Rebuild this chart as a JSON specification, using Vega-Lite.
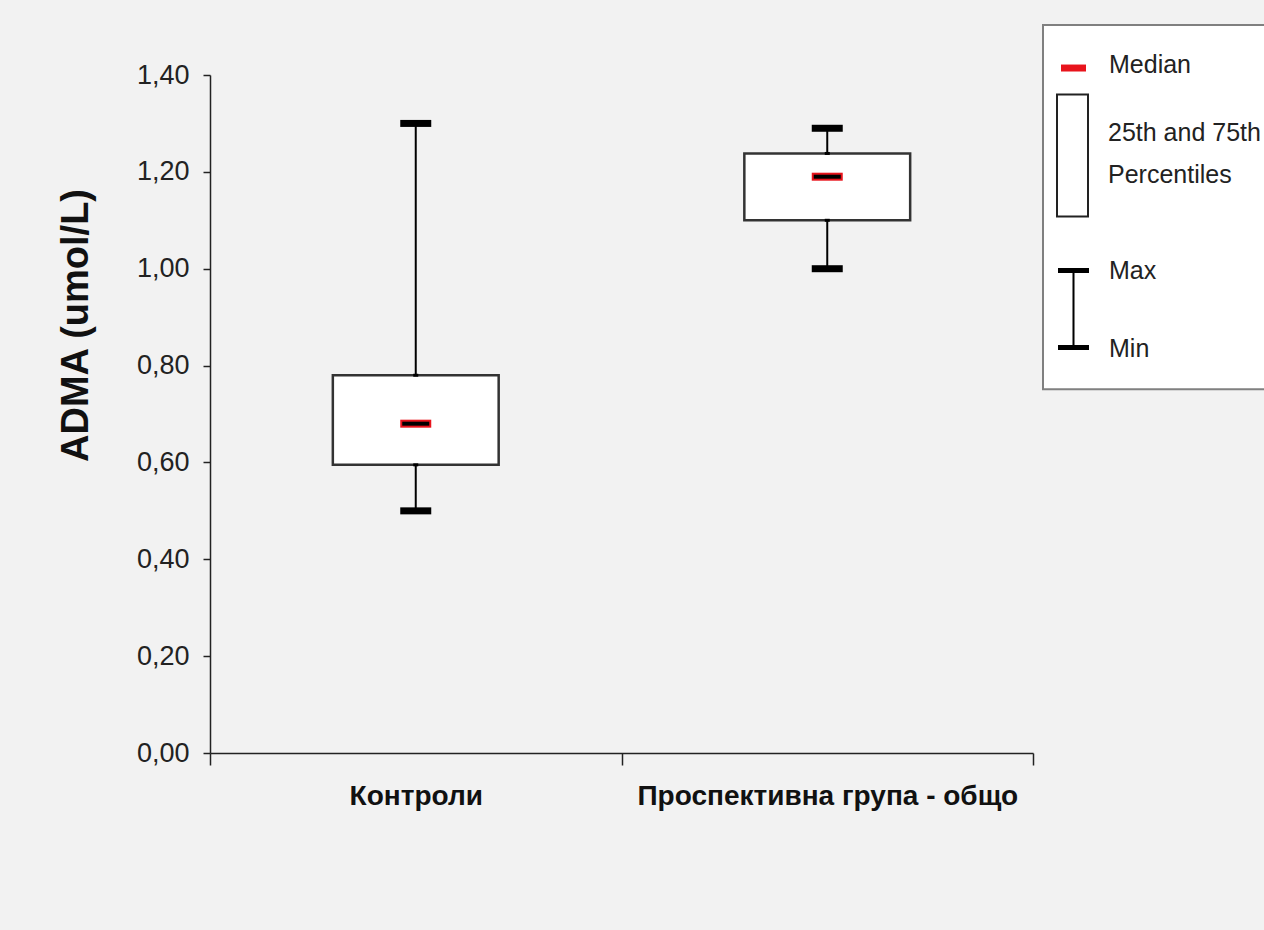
{
  "$schema": "https://vega.github.io/schema/vega-lite/v6.json",
  "width": 823,
  "height": 678,
  "autosize": {"type": "none"},
  "padding": {"left": 210, "top": 75, "right": 231, "bottom": 177},
  "background": "#f2f2f2",
  "config": {
    "view": {"stroke": null},
    "font": "Liberation Sans",
    "style": {"guide-label": {"lineHeight": 42}},
    "legend": {
      "title": null, "orient": "none", "padding": 0, "symbolSize": 961, "symbolOpacity": 1,
      "symbolStrokeWidth": 2, "labelOffset": 19, "labelFont": "Liberation Sans", "labelFontSize": 25,
      "labelColor": "#222222", "labelLimit": 0
    }
  },
  "data": {
    "values": [
      {"group": "Контроли", "min": 0.50, "q1": 0.595, "median": 0.68, "q3": 0.78, "max": 1.30},
      {"group": "Проспективна група - общо", "min": 1.00, "q1": 1.10, "median": 1.19, "q3": 1.238, "max": 1.29}
    ]
  },
  "resolve": {
    "scale": {"shape": "independent", "fill": "independent", "stroke": "independent"},
    "legend": {"shape": "independent", "fill": "independent", "stroke": "independent"}
  },
  "layer": [
    {
      "mark": {"type": "rule", "color": "#000000", "strokeWidth": 2},
      "encoding": {
        "x": {
          "field": "group", "type": "nominal", "sort": null,
          "scale": {"paddingInner": 0, "paddingOuter": 0},
          "axis": {
            "title": null, "labelAngle": 0, "tickBand": "extent", "tickSize": 12,
            "tickColor": "#222222", "domainColor": "#222222", "tickWidth": 1.5, "domainWidth": 1.5,
            "labelFont": "Liberation Sans", "labelFontWeight": "bold", "labelFontSize": 28,
            "labelColor": "#111111", "labelPadding": 17, "labelLimit": 0
          }
        },
        "y": {
          "field": "min", "type": "quantitative",
          "scale": {"domain": [0, 1.4], "nice": false, "zero": true},
          "axis": {
            "values": [0, 0.2, 0.4, 0.6, 0.8, 1.0, 1.2, 1.4],
            "labelExpr": "replace(format(datum.value, '.2f'), '.', ',')",
            "grid": false, "tickSize": 7, "tickColor": "#222222", "domainColor": "#222222",
            "tickWidth": 1.5, "domainWidth": 1.5,
            "labelFont": "Liberation Sans", "labelFontSize": 27, "labelColor": "#222222",
            "labelPadding": 14,
            "title": "ADMA  (umol/L)", "titleFont": "Liberation Sans", "titleFontWeight": "bold",
            "titleFontSize": 38, "titleColor": "#111111", "titleAngle": 270,
            "titleBaseline": "middle", "titleX": -134, "titleY": 250, "titleAlign": "center"
          }
        },
        "y2": {"field": "max"}
      }
    },
    {
      "mark": {"type": "bar", "fill": "#ffffff", "stroke": "#333333", "strokeWidth": 2.5, "width": {"band": 0.403}},
      "encoding": {
        "x": {"field": "group", "type": "nominal", "sort": null},
        "y": {"field": "q1", "type": "quantitative"},
        "y2": {"field": "q3"}
      }
    },
    {
      "mark": {"type": "tick", "color": "#000000", "size": 5, "thickness": 3, "opacity": 1},
      "encoding": {
        "x": {"field": "group", "type": "nominal", "sort": null},
        "y": {"field": "q1", "type": "quantitative"}
      }
    },
    {
      "mark": {"type": "tick", "color": "#000000", "size": 5, "thickness": 3, "opacity": 1},
      "encoding": {
        "x": {"field": "group", "type": "nominal", "sort": null},
        "y": {"field": "q3", "type": "quantitative"}
      }
    },
    {
      "mark": {"type": "tick", "color": "#000000", "size": 31, "thickness": 7, "opacity": 1},
      "encoding": {
        "x": {"field": "group", "type": "nominal", "sort": null},
        "y": {"field": "min", "type": "quantitative"}
      }
    },
    {
      "mark": {"type": "tick", "color": "#000000", "size": 31, "thickness": 7, "opacity": 1},
      "encoding": {
        "x": {"field": "group", "type": "nominal", "sort": null},
        "y": {"field": "max", "type": "quantitative"}
      }
    },
    {
      "mark": {"type": "tick", "color": "#e8141c", "size": 31, "thickness": 8, "opacity": 1},
      "encoding": {
        "x": {"field": "group", "type": "nominal", "sort": null},
        "y": {"field": "median", "type": "quantitative"}
      }
    },
    {
      "mark": {"type": "tick", "color": "#000000", "size": 27, "thickness": 4, "opacity": 1},
      "encoding": {
        "x": {"field": "group", "type": "nominal", "sort": null},
        "y": {"field": "median", "type": "quantitative"}
      }
    },
    {
      "data": {"values": [{"frame": "frame"}]},
      "mark": {"type": "point", "filled": true, "opacity": 0},
      "encoding": {
        "shape": {
          "field": "frame", "type": "nominal",
          "scale": {"range": ["M-1,-1H16V22.5H-1Z"]},
          "legend": {"legendX": 832, "legendY": -51, "zindex": 0, "labelExpr": "''"}
        },
        "fill": {"field": "frame", "type": "nominal", "scale": {"range": ["#ffffff"]}},
        "stroke": {"field": "frame", "type": "nominal", "scale": {"range": ["#808080"]}}
      }
    },
    {
      "data": {"values": [{"median": "Median"}]},
      "mark": {"type": "point", "filled": true, "opacity": 0},
      "encoding": {
        "shape": {
          "field": "median", "type": "nominal",
          "scale": {"range": ["M-0.806,-0.03H0.806V0.42H-0.806Z"]},
          "legend": {"legendX": 847, "legendY": -26.5, "zindex": 1}
        },
        "fill": {"field": "median", "type": "nominal", "scale": {"range": ["#e8141c"]}},
        "stroke": {"field": "median", "type": "nominal", "scale": {"range": ["transparent"]}}
      }
    },
    {
      "data": {"values": [{"box": "Box"}]},
      "mark": {"type": "point", "filled": true, "opacity": 0},
      "encoding": {
        "shape": {
          "field": "box", "type": "nominal",
          "scale": {"range": ["M-1,-2.484H1V5.387H-1Z"]},
          "legend": {"legendX": 846, "legendY": 41.5, "zindex": 1, "labelExpr": "['25th and 75th', 'Percentiles']"}
        },
        "fill": {"field": "box", "type": "nominal", "scale": {"range": ["#ffffff"]}},
        "stroke": {"field": "box", "type": "nominal", "scale": {"range": ["#222222"]}}
      }
    },
    {
      "data": {"values": [{"range": "Max"}]},
      "mark": {"type": "point", "filled": true, "opacity": 0},
      "encoding": {
        "shape": {
          "field": "range", "type": "nominal",
          "scale": {"range": ["M-1,-0.194H1V0.126H0.065V4.78H1V5.1H-1V4.78H-0.065V0.126H-1Z"]},
          "legend": {"legendX": 847, "legendY": 179.5, "zindex": 1}
        },
        "fill": {"field": "range", "type": "nominal", "scale": {"range": ["#000000"]}},
        "stroke": {"field": "range", "type": "nominal", "scale": {"range": ["transparent"]}}
      }
    },
    {
      "data": {"values": [{"low": "Min"}]},
      "mark": {"type": "point", "filled": true, "opacity": 0},
      "encoding": {
        "shape": {
          "field": "low", "type": "nominal",
          "scale": {"range": ["M-1,-0.1H1V0.1H-1Z"]},
          "legend": {"legendX": 847, "legendY": 257, "zindex": 1}
        },
        "fill": {"field": "low", "type": "nominal", "scale": {"range": ["transparent"]}},
        "stroke": {"field": "low", "type": "nominal", "scale": {"range": ["transparent"]}}
      }
    }
  ]
}
